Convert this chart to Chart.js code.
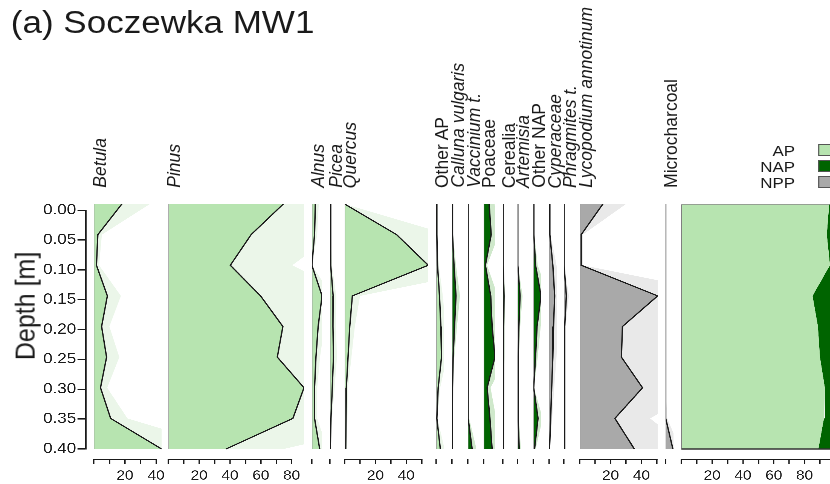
<!DOCTYPE html>
<html>
<head>
<meta charset="utf-8">
<script src="https://cdn.jsdelivr.net/npm/chart.js@4/dist/chart.umd.min.js"></script>
<style>
  html, body { margin: 0; padding: 0; background: #fff; width: 830px; height: 484px; overflow: hidden; }
  #fig { position: absolute; left: 0; top: 0; width: 735px; height: 484px;
         transform-origin: 0 0; transform: scaleX(1.13);
         font-family: "Liberation Sans", Arial, Helvetica, sans-serif; color: #1a1a1a; }
  #fig canvas { position: absolute; }
  .title { position: absolute; left: 9.5px; top: 7px; font-size: 31px; line-height: 1; white-space: nowrap; }
  .taxon { position: absolute; writing-mode: vertical-rl; transform: scaleX(0.9) rotate(180deg);
           font-size: 17.5px; line-height: 1; white-space: nowrap; }
  .taxon.it { font-style: italic; }
  .ylab { position: absolute; writing-mode: vertical-rl; font-size: 25px; line-height: 1; white-space: nowrap;
          transform: translateY(-50%) rotate(180deg); }
  .leg { position: absolute; font-size: 15px; line-height: 15px; text-align: right; white-space: nowrap; }
  .sw { position: absolute; width: 12px; height: 12px; box-sizing: border-box; border: 1px solid #555; }
</style>
</head>
<body>
<div id="fig"></div>
<script>
// ---- data: percentages per sample depth ----
const depths        = [0.00, 0.05, 0.10, 0.15, 0.20, 0.25, 0.30, 0.35, 0.40];
const betula        = [18, 2.6, 1.7, 8.7, 5, 8.2, 4.3, 10.8, 43.5];
const pinus         = [74.6, 53.7, 40.2, 59.8, 74.3, 70.7, 88, 80.8, 37.4];
const alnus         = [2.2, 1.7, 0, 6.5, 4, 2.6, 1.7, 1.7, 5];
const picea         = [0.1, 0.3, 0.6, 1.9, 1.8, 2.1, 1.4, 0.6, 0.2];
const quercus       = [0, 33.7, 54.3, 5, 3.3, 2.2, 1.1, 0.9, 0.7];
const otherAP       = [0.4, 0.4, 0.8, 2, 2.8, 3.2, 1.2, 0.4, 2.5];
const calluna       = [0.3, 0.3, 1.2, 2.4, 1.5, 0.7, 0.3, 0.2, 0.2];
const vaccinium     = [0.1, 0.1, 0.1, 0.1, 0.1, 0.2, 0.3, 0.4, 2.6];
const poaceae       = [3.5, 4.8, 1.1, 4.5, 5.4, 7.2, 2.2, 4, 5.4];
const cerealia      = [0.2, 0.2, 0.2, 0.7, 0.5, 0.5, 0.3, 0.2, 0.2];
const artemisia     = [0, 0, 0.3, 1.5, 0.8, 0.4, 0.3, 0.4, 1];
const otherNAP      = [0, 0.3, 1.3, 4.6, 2.2, 1.3, 0.2, 2.8, 0.7];
const cyperaceae    = [0, 0.4, 2.2, 3.3, 2.6, 2.2, 1.5, 0.9, 0.2];
const phragmites    = [0, 0, 0.2, 1.5, 0.5, 0.5, 0.5, 0.5, 0.5];
const lycopodium    = [15, 1, 1, 50.5, 27.7, 27, 40.7, 22.8, 35.4];
const microcharcoal = [0, 0, 0, 0, 0, 0, 0, 0.5, 4.4];
const sumAP         = [96, 94.5, 96.5, 85.2, 88.7, 90, 93.2, 92.6, 89];
const sumNAP        = [4, 5.5, 3.5, 14.8, 11.3, 10, 6.8, 7.4, 11];
const sumNPP        = [15, 1, 1, 50.5, 27.7, 27, 40.7, 23.3, 39.8];

const depthTicks    = [0, 0.05, 0.10, 0.15, 0.20, 0.25, 0.30, 0.35, 0.40];
const pctTickLabels = [20, 40, 60, 80];
const legendItems   = ['AP', 'NAP', 'NPP'];

// ---- layout & style ----
const STRETCH = 1.13;                 // the figure is drawn horizontally widened
const u = v => v / STRETCH;           // page px -> layout px
const PCT = u(1.534);                 // layout px per percent
const PLOT_TOP = 204, PLOT_BOTTOM = 449, AXIS_DROP = 10;
const STEP_PX = (PLOT_BOTTOM - PLOT_TOP) / 8;
const Y_MAX = 0.40 + 0.05 * AXIS_DROP / STEP_PX;
const INK = '#1a1a1a';
const FONT = '"Liberation Sans", Arial, Helvetica, sans-serif';
const EXAG = 2;
const GROUP = {
  AP:  { fill: '#b7e4b0', exag: '#ebf6e9' },
  NAP: { fill: '#006400', exag: '#cfe8cb' },
  NPP: { fill: '#a9a9a9', exag: '#e9e9e9' }
};

const panels = [
  { label: 'Betula', it: true, values: betula, group: 'AP' },
  { label: 'Pinus', it: true, values: pinus, group: 'AP' },
  { label: 'Alnus', it: true, values: alnus, group: 'AP' },
  { label: 'Picea', it: true, values: picea, group: 'AP' },
  { label: 'Quercus', it: true, values: quercus, group: 'AP' },
  { label: 'Other AP', it: false, values: otherAP, group: 'AP' },
  { label: 'Calluna vulgaris', it: true, values: calluna, group: 'NAP' },
  { label: 'Vaccinium t.', it: true, values: vaccinium, group: 'NAP' },
  { label: 'Poaceae', it: false, values: poaceae, group: 'NAP' },
  { label: 'Cerealia', it: false, values: cerealia, group: 'NAP' },
  { label: 'Artemisia', it: true, values: artemisia, group: 'NAP' },
  { label: 'Other NAP', it: false, values: otherNAP, group: 'NAP' },
  { label: 'Cyperaceae', it: true, values: cyperaceae, group: 'NPP' },
  { label: 'Phragmites t.', it: true, values: phragmites, group: 'NPP' },
  { label: 'Lycopodium annotinum', it: true, values: lycopodium, group: 'NPP' },
  { label: 'Microcharcoal', it: false, values: microcharcoal, group: 'NPP' }
];

const fig = document.getElementById('fig');

// Axis line under each panel, from the first to the last tick
const baseAxisLine = {
  id: 'baseAxisLine',
  afterDraw(chart) {
    const s = chart.scales.x;
    if (!s || !s.options.display || s.ticks.length < 2) return;
    const x0 = s.getPixelForValue(s.ticks[0].value);
    const x1 = s.getPixelForValue(s.ticks[s.ticks.length - 1].value);
    const ctx = chart.ctx;
    ctx.save();
    ctx.strokeStyle = INK;
    ctx.lineWidth = 1.2;
    ctx.beginPath();
    ctx.moveTo(x0 - 0.6, s.top + 0.6);
    ctx.lineTo(x1 + 0.6, s.top + 0.6);
    ctx.stroke();
    ctx.restore();
  }
};

function pts(vals, k = 1) { return depths.map((d, i) => ({ x: vals[i] * k, y: d })); }

function makeCanvas(left, top, w, h) {
  const c = document.createElement('canvas');
  c.width = Math.ceil(w); c.height = Math.ceil(h);
  c.style.left = left + 'px'; c.style.top = top + 'px';
  fig.appendChild(c);
  return c;
}

function xAxis(max, stacked) {
  return {
    type: 'linear', min: 0, max, position: 'bottom', stacked: !!stacked,
    afterFit(s) { s.height = 28; },
    border: { display: false },
    grid: { drawOnChartArea: false, drawTicks: true, tickLength: 5, color: INK, lineWidth: 1.2 },
    ticks: {
      stepSize: 10, autoSkip: false, maxRotation: 0, includeBounds: false, padding: 4,
      color: INK, font: { family: FONT, size: 13.5 },
      callback: v => pctTickLabels.includes(v) ? String(v) : ''
    }
  };
}

const PAD = 14;
function panelChart(x0, width, max, datasets, stacked) {
  const H = 4 + (PLOT_BOTTOM + AXIS_DROP - PLOT_TOP) + 28;
  const c = makeCanvas(x0 - PAD, PLOT_TOP - 4, width + 2 * PAD, H);
  return new Chart(c, {
    type: 'line',
    data: { datasets },
    options: {
      responsive: false, animation: false, devicePixelRatio: 3, indexAxis: 'y',
      layout: { padding: { left: PAD, right: PAD, top: 4, bottom: 0 } },
      plugins: { legend: { display: false }, tooltip: { enabled: false }, filler: { drawTime: 'beforeDatasetsDraw' } },
      elements: { point: { radius: 0, hoverRadius: 0 }, line: { tension: 0 } },
      scales: {
        y: { type: 'linear', reverse: true, min: 0, max: Y_MAX, display: false, stacked: false },
        x: xAxis(max, stacked)
      }
    },
    plugins: [baseAxisLine]
  });
}

// ---- taxon panels ----
let cursor = u(93.3);
const MIN_W = u(7.3), GAP = u(8.2);
panels.forEach(p => {
  const w = Math.max(Math.max(...p.values) * PCT, MIN_W);
  const max = w / PCT;
  const st = GROUP[p.group];
  panelChart(cursor, w, max, [
    { data: pts(p.values), borderColor: INK, borderWidth: 1.2, backgroundColor: st.fill, fill: 'origin' },
    { data: [{ x: 0, y: 0 }, { x: 0, y: 0.40 }], borderColor: '#9c9c9c', borderWidth: 1, fill: false },
    { data: pts(p.values, EXAG), borderWidth: 0, borderColor: 'rgba(0,0,0,0)', backgroundColor: st.exag, fill: 'origin' }
  ]);
  const lab = document.createElement('div');
  lab.className = 'taxon' + (p.it ? ' it' : '');
  lab.textContent = p.label;
  lab.style.left = (cursor - 3) + 'px';
  lab.style.bottom = (484 - 188) + 'px';
  fig.appendChild(lab);
  cursor += w + GAP;
});

// ---- AP / NAP / NPP summary panel ----
const totMax = Math.max(...depths.map((d, i) => sumAP[i] + sumNAP[i] + sumNPP[i]));
panelChart(cursor, totMax * PCT, totMax, [
  { data: pts(sumAP), borderWidth: 0, backgroundColor: GROUP.AP.fill, fill: 'origin', stack: 'sum' },
  { data: pts(sumNAP), borderWidth: 0, backgroundColor: GROUP.NAP.fill, fill: '-1', stack: 'sum' },
  { data: pts(sumNPP), borderWidth: 0, backgroundColor: GROUP.NPP.fill, fill: '-1', stack: 'sum' },
  { data: [{ x: 0, y: 0 }, { x: totMax, y: 0 }], borderColor: '#8a8a8a', borderWidth: 1.2, fill: false, stack: 'top' },
  { data: [{ x: 0, y: 0.40 }, { x: totMax, y: 0.40 }], borderColor: '#333', borderWidth: 1.2, fill: false, stack: 'bottom' },
  { data: [{ x: 0, y: 0 }, { x: 0, y: 0.40 }], borderColor: '#555', borderWidth: 1.2, fill: false, stack: 'left' }
], true);

// ---- depth axis ----
(function depthAxis() {
  const axisX = u(86);
  const c = makeCanvas(0, PLOT_TOP - 4, axisX + 4, 4 + (PLOT_BOTTOM - PLOT_TOP) + 10);
  new Chart(c, {
    type: 'line',
    data: { datasets: [] },
    options: {
      responsive: false, animation: false, devicePixelRatio: 3,
      layout: { padding: { left: 0, right: 2, top: 4, bottom: 10 } },
      plugins: { legend: { display: false }, tooltip: { enabled: false } },
      scales: {
        x: { type: 'linear', display: false, min: 0, max: 1 },
        y: {
          type: 'linear', reverse: true, min: 0, max: 0.40, position: 'left',
          afterFit(s) { s.width = axisX; },
          afterBuildTicks(s) { s.ticks = depthTicks.map(v => ({ value: v })); },
          border: { display: true, color: INK, width: 1.3 },
          grid: { drawOnChartArea: false, drawTicks: true, tickLength: u(8.5), color: INK, lineWidth: 1.2 },
          ticks: { autoSkip: false, padding: 1.2, color: INK, font: { family: FONT, size: 15 },
                   callback: v => Number(v).toFixed(2) }
        }
      }
    }
  });
  const yl = document.createElement('div');
  yl.className = 'ylab';
  yl.textContent = 'Depth [m]';
  yl.style.left = '10px';
  yl.style.top = '306px';
  fig.appendChild(yl);
})();

// ---- title ----
const t = document.createElement('div');
t.className = 'title';
t.textContent = '(a) Soczewka MW1';
fig.appendChild(t);

// ---- legend ----
legendItems.forEach((name, i) => {
  const cy = 150 + i * 16;
  const l = document.createElement('div');
  l.className = 'leg';
  l.textContent = name;
  l.style.right = (735 - u(795)) + 'px';
  l.style.top = (cy - 7.5) + 'px';
  fig.appendChild(l);
  const s = document.createElement('div');
  s.className = 'sw';
  s.style.left = u(818.3) + 'px';
  s.style.top = (cy - 6) + 'px';
  s.style.background = GROUP[name].fill;
  fig.appendChild(s);
});
</script>
</body>
</html>
